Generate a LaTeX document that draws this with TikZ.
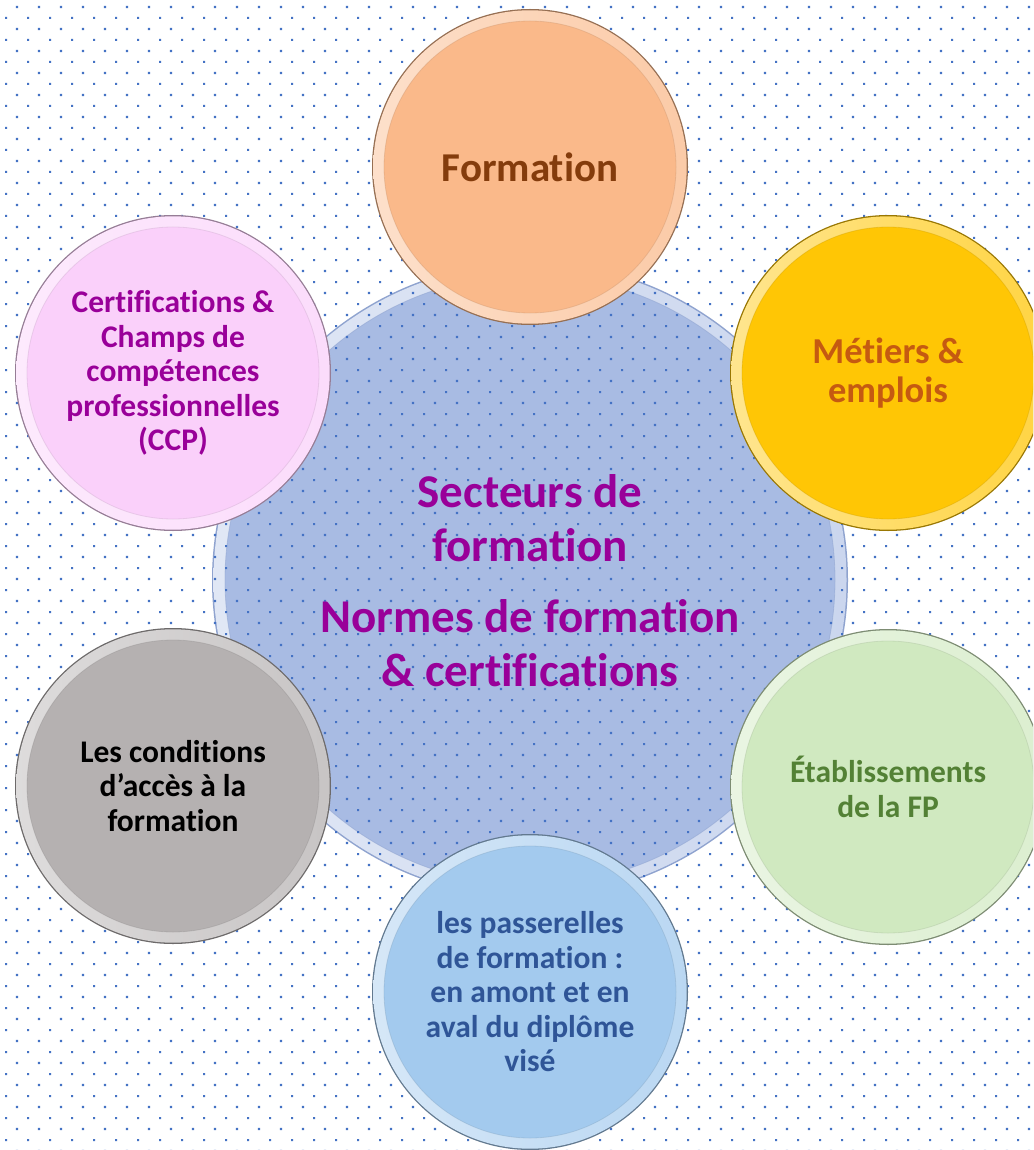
\documentclass[tikz,border=0pt]{standalone}
\usepackage{fontspec}
\setmainfont{Carlito}[Ligatures=NoCommon]
\definecolor{dotc}{HTML}{4472C4}
\definecolor{cenfill}{HTML}{A8BBE3}
\definecolor{cenrim}{HTML}{8FA3CF}
\definecolor{cpeach}{HTML}{FAB98A}
\definecolor{tpeach}{HTML}{843C0C}
\definecolor{cgold}{HTML}{FFC605}
\definecolor{tgold}{HTML}{C55A11}
\definecolor{cgreen}{HTML}{D0E9C0}
\definecolor{tgreen}{HTML}{538135}
\definecolor{cblue}{HTML}{A3CAEE}
\definecolor{tblue}{HTML}{2F5597}
\definecolor{cgray}{HTML}{B5B1B1}
\definecolor{cpink}{HTML}{FAD0FA}
\definecolor{tpurple}{HTML}{990099}
\newcommand{\bevelrim}[3]{% centre, colour, radius
  \fill[#2!60!black] (#1) circle (#3);
  \shade[left color=#2!45!white, middle color=#2, right color=#2!75!white] (#1) circle ({#3-1.3});
}
\tikzset{
  bubble/.style={circle, inner sep=0pt, minimum size=292pt, align=center,
    draw=#1!80!black, draw opacity=.35, line width=.8pt, fill=#1},
  small/.style={font=\fontsize{31.5}{34.5}\selectfont\bfseries},
  bigtxt/.style={font=\fontsize{47}{54}\selectfont\bfseries, align=center, text=tpurple}
}
\begin{document}
\begin{tikzpicture}[x=1pt,y=-1pt]
\useasboundingbox (0,0) rectangle (1033,1150);
\clip (0,0) rectangle (1033,1150);
\fill[white] (0,0) rectangle (1033,1150);
% central circle
\fill[cenrim] (530,580) circle (318);
\shade[left color=cenfill!35!white, middle color=cenfill!80!white, right color=cenfill!60!white] (530,580) circle (316.5);
\node[circle, inner sep=0pt, minimum size=610pt, fill=cenfill, draw=cenrim, draw opacity=.5, line width=.8pt] (centre) at (530,580) {};
% dotted background
\fill[dotc] \foreach \r in {0,...,52} { \foreach \c in {0,...,47} {
   ({17+22*\c-1.1},{7+22*\r-1.1}) rectangle +(2.2,2.2)
   ({6+22*\c-1},{18+22*\r-1}) rectangle +(2,2) } };
\node[bigtxt] (centretext) at (530,581) {Secteurs de\\formation\\[17pt]Normes de formation\\\& certifications};
% outer circles
\bevelrim{530,167}{cpeach}{158}
\node[bubble=cpeach, text=tpeach, font=\fontsize{41}{46}\selectfont\bfseries] (formation) at (530,167) {Formation};
\bevelrim{888,373}{cgold}{158}
\node[bubble=cgold, text=tgold, font=\fontsize{36.5}{39}\selectfont\bfseries] (metiers) at (888,373) {Métiers \&\\emplois};
\bevelrim{888,787}{cgreen}{158}
\node[bubble=cgreen, text=tgreen, small] (etab) at (888,787) {Établissements\\de la FP};
\bevelrim{530,992}{cblue}{158}
\node[bubble=cblue, text=tblue, small] (passerelles) at (530,992) {les passerelles\\de formation :\\en amont et en\\aval du diplôme\\visé};
\bevelrim{173,786}{cgray}{158}
\node[bubble=cgray, text=black, small] (conditions) at (173,786) {Les conditions\\d’accès à la\\formation};
\bevelrim{173,373}{cpink}{158}
\node[bubble=cpink, text=tpurple, small] (certif) at (173,373) {Certifications \&\\Champs de\\compétences\\professionnelles\\(CCP)};
\end{tikzpicture}
\end{document}
